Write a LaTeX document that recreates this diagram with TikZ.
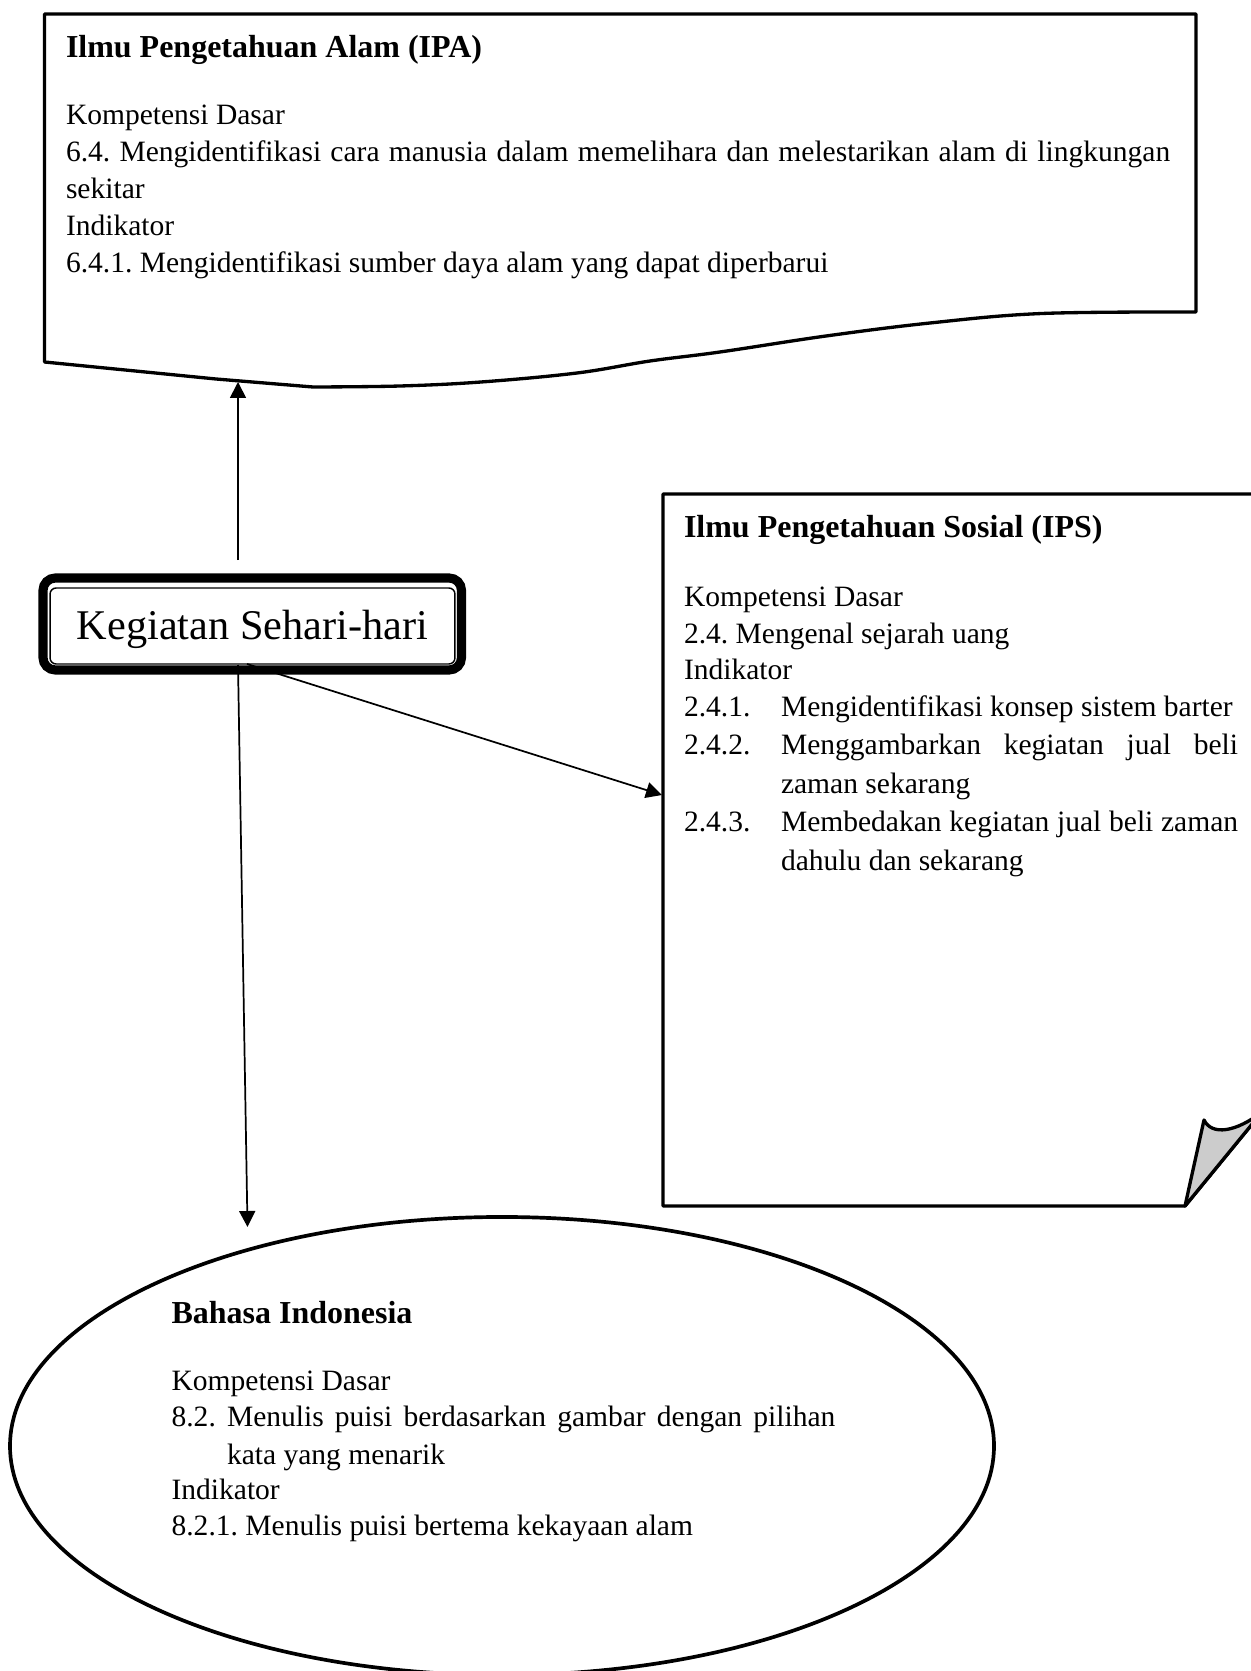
\documentclass[tikz,border=0pt]{standalone}
\usepackage{fontspec}
\setmainfont{Liberation Serif}
\usetikzlibrary{arrows.meta,shapes.geometric}
\newcommand\jstline[2]{\makebox[#1][s]{#2}}
\frenchspacing
\begin{document}
\begin{tikzpicture}[x=0.4065pt,y=-0.4065pt,
  boxline/.style={line width=1.35pt, line join=round},
  txt/.style={anchor=base west, inner sep=0pt, outer sep=0pt, font=\fontsize{12pt}{14pt}\selectfont},
  ttl/.style={txt, font=\fontsize{13pt}{15pt}\selectfont\bfseries},
  arr/.style={line width=0.7pt, -{Triangle[length=6.5pt,width=6.5pt]}}]
\useasboundingbox (0,0) rectangle (1251,1671);
\clip (0,0) rectangle (1251,1671);

% ---------- IPA box (document shape) ----------
\draw[boxline] (44.5,362) -- (44.5,14) -- (1196,14) -- (1196,312)
  -- plot[smooth, tension=0.6] coordinates {(1196,312) (1042,313.5) (930,323) (826,336) (720,352) (650,361) (577,373) (481,382) (400,386) (313,387)}
  -- (216,379) -- cycle;
\coordinate (ipab) at (238,382);

\node[ttl] (ipa0) at (66,58) {Ilmu Pengetahuan Alam (IPA)};
\node[txt] (ipa1) at (66,125) {Kompetensi Dasar};
\node[txt] (ipa2) at (66,161.8) {\jstline{448.8pt}{6.4. Mengidentifikasi cara manusia dalam memelihara dan melestarikan alam di lingkungan}};
\node[txt] (ipa3) at (66,198.6) {sekitar};
\node[txt] (ipa4) at (66,235.4) {Indikator};
\node[txt] (ipa5) at (66,272.2) {6.4.1. Mengidentifikasi sumber daya alam yang dapat diperbarui};

% ---------- IPS box (folded corner) ----------
\draw[boxline] (1262,1112) -- (1262,494) -- (663,494) -- (663,1206) -- (1185,1206) -- cycle;
\draw[boxline, fill=black!20] (1185,1206) -- (1204,1120) .. controls (1212,1136) and (1236,1132) .. (1262,1112) -- cycle;
\coordinate (ipsl) at (662,795);

\node[ttl] (ips0) at (684,537) {Ilmu Pengetahuan Sosial (IPS)};
\node[txt] (ips1) at (684,606.3) {Kompetensi Dasar};
\node[txt] (ips2) at (684,643) {2.4. Mengenal sejarah uang};
\node[txt] (ips3) at (684,679.7) {Indikator};
\node[txt] (ips4n) at (684,716.4) {2.4.1.};
\node[txt] (ips4) at (781,716.4) {Mengidentifikasi konsep sistem barter};
\node[txt] (ips5n) at (684,754.5) {2.4.2.};
\node[txt] (ips5) at (781,754.5) {\jstline{185.8pt}{Menggambarkan kegiatan jual beli}};
\node[txt] (ips6) at (781,793) {zaman sekarang};
\node[txt] (ips7n) at (684,831.5) {2.4.3.};
\node[txt] (ips7) at (781,831.5) {\jstline{185.8pt}{Membedakan kegiatan jual beli zaman}};
\node[txt] (ips8) at (781,870) {dahulu dan sekarang};

% ---------- Kegiatan box ----------
\node[draw, line width=3.7pt, rounded corners=5pt, minimum width=170.1pt, minimum height=37.4pt, inner sep=0pt] (kg) at (252.25,624) {};
\node[draw, line width=0.6pt, rounded corners=2.5pt, minimum width=164.6pt, minimum height=30.9pt, inner sep=0pt] (kgin) at (252.5,626) {};
\node[anchor=base, inner sep=0pt, font=\fontsize{17.2pt}{20pt}\selectfont] (kgt) at (252.5,639) {Kegiatan Sehari-hari};
\coordinate (kgu) at (238,560);
\coordinate (kgd) at (238,665);
\coordinate (kgr) at (247,664);

% ---------- Bahasa Indonesia ellipse ----------
\node[ellipse, draw, line width=1.5pt, minimum width=400pt, minimum height=186.2pt, inner sep=0pt] (bind) at (502,1446) {};
\coordinate (bit) at (247.5,1227);

\node[ttl] (bi0) at (171.6,1323) {Bahasa Indonesia};
\node[txt] (bi1) at (171.6,1390) {Kompetensi Dasar};
\node[txt] (bi2) at (171.6,1426.5) {\jstline{269.8pt}{8.2. Menulis puisi berdasarkan gambar dengan pilihan}};
\node[txt] (bi3) at (227,1464) {kata yang menarik};
\node[txt] (bi4) at (171.6,1499.5) {Indikator};
\node[txt] (bi5) at (171.6,1535) {8.2.1. Menulis puisi bertema kekayaan alam};

% ---------- connectors ----------
\draw[arr] (kgu) -- (ipab);
\draw[arr] (kgr) -- (ipsl);
\draw[arr] (kgd) -- (bit);
\end{tikzpicture}
\end{document}
